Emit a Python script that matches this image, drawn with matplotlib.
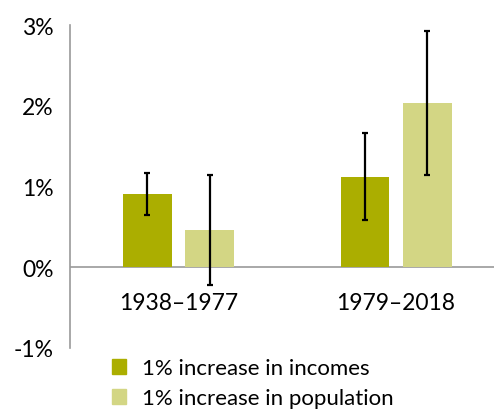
import matplotlib
matplotlib.use("Agg")
import matplotlib.pyplot as plt
import numpy as np
from matplotlib.patches import Patch

plt.rcParams["font.family"] = ["Lato", "DejaVu Sans"]

periods = ["1938–1977", "1979–2018"]
series_names = ["1% increase in incomes", "1% increase in population"]
colors = ["#abae00", "#d3d684"]

# percent change, with lower/upper bounds of the error bars
incomes = [0.91, 1.12]
incomes_lo = [0.65, 0.58]
incomes_hi = [1.17, 1.67]
population = [0.46, 2.04]
population_lo = [-0.22, 1.14]
population_hi = [1.14, 2.93]

fig = plt.figure(figsize=(4.94, 4.10), dpi=100)
ax = fig.add_axes([0.1427, 0.149, 0.8573, 0.787])

x = np.arange(len(periods))
width = 0.224
offset = 0.143

for vals, lo, hi, col, sign in [
    (incomes, incomes_lo, incomes_hi, colors[0], -1),
    (population, population_lo, population_hi, colors[1], 1),
]:
    vals = np.array(vals)
    yerr = np.vstack([vals - np.array(lo), np.array(hi) - vals])
    ax.bar(x + sign * offset, vals, width, color=col, zorder=2)
    ax.errorbar(x + sign * offset, vals, yerr=yerr, fmt="none", ecolor="black",
                elinewidth=1.6, capsize=2.0, capthick=1.6, zorder=3)

ax.axhline(0, color="#9a9a9a", lw=1.2, zorder=1)
ax.set_xlim(-0.496, 1.45)
ax.set_ylim(-1, 3)
ax.set_yticks([-1, 0, 1, 2, 3])
ax.set_yticklabels(["-1%", "0%", "1%", "2%", "3%"])
ax.tick_params(axis="y", length=0, pad=12, labelsize=16.5)
ax.set_xticks([])
for s in ["top", "right", "bottom"]:
    ax.spines[s].set_visible(False)
ax.spines["left"].set_color("#9a9a9a")
ax.spines["left"].set_linewidth(1.2)

for i, p in enumerate(periods):
    ax.annotate(p, xy=(x[i], 0), xytext=(0, -18), textcoords="offset points",
                ha="center", va="top", fontsize=16.5)

handles = [Patch(color=c) for c in colors]
fig.legend(handles, series_names, loc="upper left", bbox_to_anchor=(0.2267, 0.124),
           frameon=False, fontsize=16, handlelength=0.63, handleheight=0.63,
           handletextpad=0.72, labelspacing=0.45, borderpad=0, borderaxespad=0)

fig.savefig("out.png", dpi=100)
